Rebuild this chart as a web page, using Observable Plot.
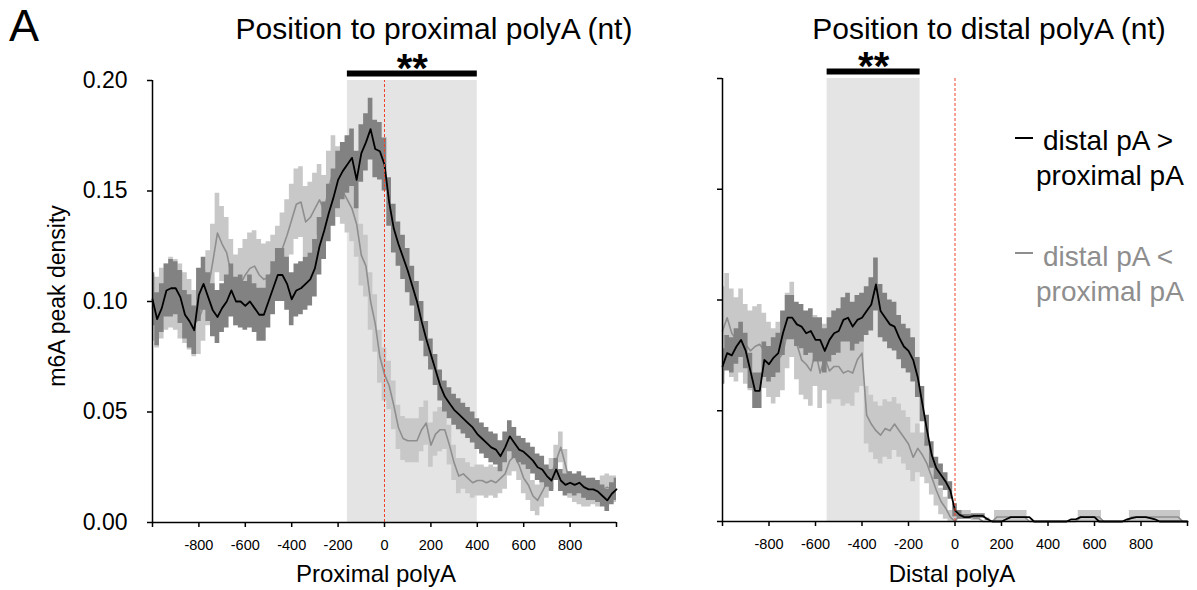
<!DOCTYPE html>
<html><head><meta charset="utf-8">
<script src="https://cdn.jsdelivr.net/npm/d3@7"></script>
<script src="https://cdn.jsdelivr.net/npm/@observablehq/plot@0.6"></script>
<style>
body{margin:0;background:#fff;font-family:"Liberation Sans",Arial,Helvetica,sans-serif;}
#wrap{position:relative;width:1197px;height:590px;overflow:hidden;background:#fff;}
.abs{position:absolute;white-space:nowrap;line-height:1;}
.pnl{position:absolute;top:0;}
</style></head><body><div id="wrap"></div>
<script>
// sampling positions (nt)
const positions = [-1000,-980,-960,-940,-920,-900,-880,-860,-840,-820,-800,-780,-760,-740,-720,-700,-680,-660,-640,-620,-600,-580,-560,-540,-520,-500,-480,-460,-440,-420,-400,-380,-360,-340,-320,-300,-280,-260,-240,-220,-200,-180,-160,-140,-120,-100,-80,-60,-40,-20,0,20,40,60,80,100,120,140,160,180,200,220,240,260,280,300,320,340,360,380,400,420,440,460,480,500,520,540,560,580,600,620,640,660,680,700,720,740,760,780,800,820,840,860,880,900,920,940,960,980,1000];

// Proximal panel: distal pA > proximal pA (black)
const proxHigh = [0.101,0.092,0.097,0.105,0.106,0.106,0.102,0.094,0.091,0.087,
0.103,0.108,0.102,0.096,0.093,0.097,0.100,0.105,0.100,0.100,
0.098,0.100,0.097,0.094,0.094,0.100,0.106,0.112,0.112,0.108,
0.101,0.105,0.106,0.108,0.110,0.115,0.125,0.132,0.140,0.147,
0.155,0.159,0.162,0.165,0.155,0.167,0.172,0.178,0.169,0.168,
0.162,
0.145,0.133,0.126,0.120,0.114,0.107,0.100,0.091,0.083,0.076,
0.069,0.062,0.057,0.054,0.051,0.049,0.047,0.045,0.043,0.040,
0.038,0.036,0.034,0.033,0.030,0.034,0.039,0.036,0.033,0.032,
0.030,0.028,0.025,0.024,0.021,0.019,0.024,0.019,0.017,0.018,
0.017,0.018,0.016,0.015,0.015,0.014,0.012,0.010,0.013,0.015];
const proxHighSE = [0.012,0.012,0.011,0.012,0.013,0.012,0.012,0.011,0.012,0.011,
0.012,0.012,0.011,0.012,0.012,0.011,0.012,0.012,0.011,0.012,
0.011,0.012,0.011,0.012,0.012,0.012,0.012,0.012,0.012,0.012,
0.012,0.012,0.012,0.012,0.012,0.013,0.013,0.013,0.013,0.013,
0.013,0.013,0.013,0.013,0.013,0.013,0.013,0.014,0.013,0.013,
0.012,
0.011,0.011,0.010,0.010,0.010,0.009,0.009,0.009,0.008,0.007,
0.007,0.007,0.007,0.007,0.007,0.007,0.007,0.007,0.007,0.007,
0.007,0.007,0.007,0.007,0.007,0.007,0.007,0.007,0.006,0.006,
0.006,0.006,0.006,0.006,0.005,0.005,0.005,0.005,0.005,0.005,
0.005,0.005,0.005,0.005,0.005,0.005,0.005,0.005,0.005,0.005];
// Proximal panel: distal pA < proximal pA (grey)
const proxLow = [0.097,0.095,0.099,0.102,0.104,0.103,0.100,0.097,0.094,0.090,
0.092,0.098,0.106,0.118,0.131,0.126,0.122,0.112,0.105,0.108,
0.112,0.115,0.116,0.112,0.110,0.111,0.114,0.118,0.124,0.130,
0.137,0.144,0.145,0.136,0.138,0.142,0.146,0.141,0.152,0.159,
0.154,0.150,0.146,0.142,0.135,0.121,0.116,0.100,0.090,0.075,
0.067,
0.062,0.053,0.043,0.038,0.037,0.037,0.037,0.042,0.045,0.035,
0.040,0.042,0.042,0.035,0.027,0.021,0.022,0.020,0.018,0.019,
0.019,0.018,0.019,0.018,0.020,0.022,0.028,0.030,0.026,0.020,
0.017,0.012,0.010,0.014,0.018,0.022,0.028,0.034,0.026,0.017,
0.015,0.014,0.013,0.013,0.014,0.013,0.015,0.016,0.015,0.015];
const proxLowSE = [0.015,0.016,0.016,0.015,0.016,0.016,0.017,0.016,0.016,0.015,
0.016,0.016,0.017,0.017,0.018,0.017,0.016,0.016,0.016,0.016,
0.016,0.016,0.016,0.016,0.016,0.016,0.016,0.016,0.016,0.016,
0.016,0.016,0.016,0.016,0.016,0.016,0.016,0.016,0.016,0.016,
0.016,0.015,0.015,0.015,0.015,0.014,0.014,0.013,0.013,0.012,
0.012,
0.011,0.011,0.010,0.010,0.010,0.010,0.010,0.010,0.010,0.010,
0.010,0.010,0.009,0.009,0.008,0.008,0.007,0.007,0.007,0.007,
0.007,0.007,0.007,0.007,0.007,0.007,0.007,0.007,0.007,0.007,
0.007,0.007,0.007,0.007,0.007,0.007,0.007,0.007,0.007,0.006,
0.006,0.006,0.006,0.006,0.006,0.006,0.006,0.006,0.006,0.006];

// Distal panel: distal pA > proximal pA (black)
const distHigh = [0.070,0.076,0.075,0.079,0.082,0.077,0.068,0.059,0.059,0.073,
0.071,0.074,0.076,0.085,0.092,0.092,0.089,0.088,0.085,0.086,
0.082,0.082,0.077,0.082,0.085,0.086,0.091,0.092,0.088,0.091,
0.092,0.095,0.098,0.107,0.095,0.092,0.089,0.088,0.083,0.079,
0.077,0.073,0.065,0.053,0.041,0.030,0.024,0.021,0.018,0.014,
0.005,
0.003,0.002,0.002,0.0025,0.0025,0.0025,0.001,0,0,0,
0.001,0.002,0.002,0.002,0.002,0.002,0,0,0,0,
0,0,0,0,0.001,0.001,0.002,0.002,0.002,0.002,
0,0,0,0,0,0,0.001,0.0015,0.002,0.002,
0.002,0.0015,0.001,0,0,0,0,0,0,0];
const distHighSE = [0.008,0.008,0.008,0.008,0.008,0.008,0.008,0.008,0.008,0.008,
0.008,0.009,0.009,0.010,0.010,0.010,0.010,0.010,0.010,0.010,
0.010,0.010,0.010,0.010,0.010,0.010,0.010,0.011,0.011,0.011,
0.011,0.011,0.012,0.012,0.012,0.011,0.011,0.011,0.010,0.010,
0.010,0.010,0.009,0.008,0.007,0.006,0.005,0.005,0.004,0.004,
0.003,
0.002,0.001,0.001,0.001,0.001,0.001,0.0005,0,0,0,
0,0,0,0,0,0,0,0,0,0,
0,0,0,0,0,0,0,0,0,0,
0,0,0,0,0,0,0,0,0,0,
0,0,0,0,0,0,0,0,0,0];
// Distal panel: distal pA < proximal pA (grey)
const distLow = [0.086,0.092,0.085,0.082,0.086,0.080,0.077,0.079,0.080,0.077,
0.073,0.070,0.073,0.076,0.086,0.091,0.080,0.073,0.071,0.068,
0.077,0.067,0.074,0.068,0.070,0.070,0.067,0.068,0.067,0.073,
0.076,0.048,0.044,0.041,0.039,0.042,0.041,0.044,0.041,0.038,
0.035,0.029,0.033,0.030,0.026,0.020,0.014,0.009,0.006,0.002,
0,
0.003,0.003,0.003,0.0015,0.0015,0,0,0,0.002,0.002,
0.002,0.002,0.002,0.002,0.002,0,0,0,0,0,
0,0,0,0,0,0,0.002,0.002,0.002,0.002,
0.002,0,0,0,0,0,0,0.002,0.002,0.002,
0.002,0.002,0.002,0.002,0.002,0.002,0.002,0.002,0,0];
const distLowSE = [0.020,0.020,0.020,0.019,0.019,0.018,0.018,0.018,0.018,0.017,
0.017,0.017,0.017,0.017,0.017,0.017,0.016,0.016,0.016,0.016,
0.016,0.016,0.015,0.015,0.015,0.015,0.015,0.015,0.015,0.015,
0.015,0.013,0.013,0.013,0.013,0.013,0.013,0.012,0.012,0.012,
0.012,0.011,0.011,0.010,0.009,0.008,0.007,0.006,0.005,0.003,
0.002,
0.002,0.002,0.002,0.001,0.001,0,0,0,0.003,0.003,
0.003,0.003,0.003,0.003,0.003,0,0,0,0,0,
0,0,0,0,0,0,0.003,0.003,0.003,0.003,
0.003,0,0,0,0,0,0,0.003,0.003,0.003,
0.003,0.003,0.003,0.003,0.003,0.003,0.003,0.003,0,0];

const xTicks = [-1000,-800,-600,-400,-200,0,200,400,600,800,1000];
const yTicks = [0,0.05,0.10,0.15,0.20];
const proxWindow = [{x1:-160, x2:400, label:"**"}];
const distWindow = [{x1:-550, x2:-150, label:"**"}];
const seriesNames = ["distal pA >\nproximal pA", "distal pA <\nproximal pA"];

const COL = {black:"#000", grey:"#8e8e8e", dark:"#828282", light:"#c8c8c8", win:"#e4e4e4", red:"#f0442f"};

function rows(vals, se){
  return positions.map((x,i)=>({x, y:vals[i], lo:Math.max(0, vals[i]-se[i]), hi:vals[i]+se[i]}));
}

function panel(opts){
  const hi = rows(opts.high, opts.highSE), lo = rows(opts.low, opts.lowSE);
  const w = opts.win[0];
  return Plot.plot({
    width: opts.width, height: 590,
    marginLeft: opts.ml, marginRight: opts.mr, marginTop: opts.mt, marginBottom: opts.mb,
    x: {domain:[-1000,1000]},
    y: {domain:[0,0.2]},
    style: {fontFamily:'"Liberation Sans", Arial, sans-serif', color:"#000", background:"transparent", overflow:"visible"},
    marks: [
      Plot.rect(opts.win, {x1:"x1", x2:"x2", y1:0, y2:0.2, fill:COL.win}),
      Plot.areaY(lo, {x:"x", y1:"lo", y2:"hi", fill:COL.light, curve:"step"}),
      Plot.line(lo, {x:"x", y:"y", stroke:COL.grey, strokeWidth:1.6}),
      Plot.areaY(hi, {x:"x", y1:"lo", y2:"hi", fill:COL.dark, curve:"step"}),
      Plot.line(hi, {x:"x", y:"y", stroke:COL.black, strokeWidth:1.8}),
      Plot.ruleX([0], {y1:0, y2:0.2, stroke:COL.red, strokeWidth:1, strokeDasharray:"3,2"}),
      Plot.ruleY([0.2], {x1:w.x1, x2:w.x2, dy:-7, stroke:"#000", strokeWidth:6}),
      Plot.text(opts.win, {x:d=>(d.x1+d.x2)/2, y:0.2, text:"label", dy:-11, fontSize:40, fontWeight:"bold", fill:"#000"}),
      Plot.ruleX([-1000], {y1:0, y2:0.2, stroke:"#000", strokeWidth:1.5}),
      Plot.ruleY([0], {x1:-1000, x2:1000, stroke:"#000", strokeWidth:1.5}),
      Plot.axisX({ticks:xTicks, tickSize:5, tickPadding:12, strokeWidth:1.5, fontSize:14.5, label:null,
        tickFormat:d=>(Math.abs(d)===1000 ? "" : String(d))}),
      Plot.axisY({ticks:yTicks, tickSize:5, tickPadding:20, strokeWidth:1.5, fontSize:23, label:null,
        tickFormat: opts.yLabels ? d=>d.toFixed(2) : ()=>""})
    ]
  });
}

const wrap = document.getElementById("wrap");
const left = panel({width:640, ml:152, mr:24, mt:80, mb:68, high:proxHigh, highSE:proxHighSE, low:proxLow, lowSE:proxLowSE, win:proxWindow, yLabels:true});
const lwrap = document.createElement("div"); lwrap.className="pnl"; lwrap.style.left="0px"; lwrap.appendChild(left); wrap.appendChild(lwrap);
const right = panel({width:557, ml:82, mr:10, mt:78, mb:69, high:distHigh, highSE:distHighSE, low:distLow, lowSE:distLowSE, win:distWindow, yLabels:false});
const rwrap = document.createElement("div"); rwrap.className="pnl"; rwrap.style.left="640px"; rwrap.appendChild(right); wrap.appendChild(rwrap);

function addText(txt, o){
  const d = document.createElement("div");
  d.className = "abs";
  d.textContent = txt;
  d.style.fontSize = o.fs + "px";
  d.style.color = o.color || "#000";
  const top = o.baseline - 0.8465*o.fs;
  d.style.top = top + "px";
  if (o.center !== undefined){ d.style.left = o.center + "px"; d.style.transform = "translateX(-50%)"; }
  else d.style.left = o.left + "px";
  wrap.appendChild(d);
  return d;
}
function addSwatch(x, y, color){
  const s = document.createElement("div");
  s.style.cssText = `position:absolute;left:${x}px;top:${y-1}px;width:18px;height:2px;background:${color};`;
  wrap.appendChild(s);
}

addText("A", {fs:45, left:9, baseline:41});
addText("Position to proximal polyA (nt)", {fs:30, center:434, baseline:39.5});
addText("Position to distal polyA (nt)", {fs:30, center:989, baseline:39.5});
addText("Proximal polyA", {fs:24, center:376, baseline:582});
addText("Distal polyA", {fs:24, center:952, baseline:582.5});

const yl = document.createElement("div");
yl.className = "abs";
yl.textContent = "m6A peak density";
yl.style.cssText += "font-size:23px;left:57px;top:296px;transform:translate(-50%,-50%) rotate(-90deg);";
wrap.appendChild(yl);

// legend
const [l1, l2] = seriesNames;
addSwatch(1015, 138, "#000");
addText(l1.split("\n")[0], {fs:28, left:1043, baseline:150.5});
addText(l1.split("\n")[1], {fs:28, left:1036, baseline:185.5});
addSwatch(1015, 253, COL.grey);
addText(l2.split("\n")[0], {fs:28, left:1043, baseline:267, color:COL.grey});
addText(l2.split("\n")[1], {fs:28, left:1036, baseline:302, color:COL.grey});
</script>
</body></html>
